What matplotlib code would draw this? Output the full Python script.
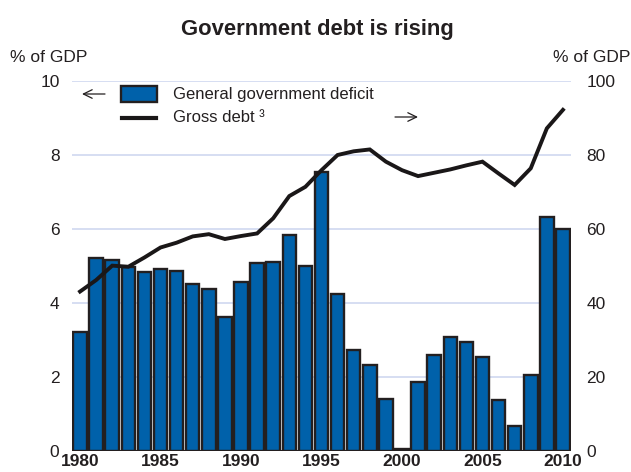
import matplotlib
matplotlib.use("Agg")
import matplotlib.pyplot as plt
from matplotlib.patches import Rectangle, FancyArrowPatch
from matplotlib.lines import Line2D

plt.rcParams['font.family'] = ['Liberation Sans', 'DejaVu Sans']

years = list(range(1980, 2011))
deficit = [3.22, 5.22, 5.17, 4.96, 4.85, 4.93, 4.86, 4.51, 4.38, 3.63,
           4.57, 5.07, 5.11, 5.84, 5.00, 7.53, 4.24, 2.73, 2.32, 1.41,
           0.05, 1.86, 2.59, 3.08, 2.95, 2.54, 1.37, 0.67, 2.05, 6.33, 5.99]
gross_debt = [43.1, 46.2, 50.1, 49.8, 52.3, 55.0, 56.3, 58.0, 58.6, 57.3,
              58.1, 58.8, 62.9, 68.9, 71.4, 75.9, 80.0, 81.0, 81.5, 78.2,
              75.9, 74.3, 75.2, 76.1, 77.2, 78.2, 75.0, 71.9, 76.4, 87.2, 92.2]
left_ticks = [0, 2, 4, 6, 8, 10]
right_ticks = [0, 20, 40, 60, 80, 100]
x_ticks = [1980, 1985, 1990, 1995, 2000, 2005, 2010]

bar_color = '#0061aa'
edge_color = '#231f20'
grid_color = '#ccd4ef'
text_color = '#231f20'

fig = plt.figure(figsize=(6.31, 4.72), dpi=100)
ax = fig.add_axes([72/631, 21/472, 499/631, 370/472])
ax2 = ax.twinx()

for t in left_ticks[1:]:
    ax.axhline(t, color=grid_color, lw=1.1, zorder=0)

ax.bar(years, deficit, width=0.84, color=bar_color, edgecolor=edge_color,
       linewidth=1.7, zorder=2)
ax.axhline(0, color=edge_color, lw=2.2, zorder=3)

ax2.plot(years, gross_debt, color='#1a1718', lw=2.8, zorder=4,
         solid_joinstyle='miter')

ax.set_xlim(1979.5, 2010.5)
ax.set_ylim(0, 10)
ax2.set_ylim(0, 100)

for a in (ax, ax2):
    for s in a.spines.values():
        s.set_visible(False)
    a.tick_params(length=0)

ax.set_yticks(left_ticks)
ax.set_yticklabels([str(v) for v in left_ticks], fontsize=12.5, color=text_color)
ax.tick_params(axis='y', pad=9)
ax2.set_yticks(right_ticks)
ax2.set_yticklabels([str(v) for v in right_ticks], fontsize=12.5, color=text_color)
ax2.tick_params(axis='y', pad=11)
ax.set_xticks(x_ticks)
ax.set_xticklabels([str(v) for v in x_ticks], fontsize=12.5, fontweight='bold',
                   color=text_color)
ax.tick_params(axis='x', pad=2)

fig.text(317/631, 1 - 30/472, 'Government debt is rising', ha='center',
         va='center', fontsize=15.8, fontweight='bold', color=text_color)
fig.text(10/631, 1 - 57/472, '% of GDP', ha='left', va='center', fontsize=12.5,
         color=text_color)
fig.text(630/631, 1 - 57/472, '% of GDP', ha='right', va='center', fontsize=12.5,
         color=text_color)

# legend
def fx(px):
    return px / 631
def fy(py):
    return 1 - py / 472

fig.patches.append(Rectangle((fx(121), fy(102)), 36/631, 16/472,
                             transform=fig.transFigure, facecolor=bar_color,
                             edgecolor=edge_color, linewidth=1.7))
fig.lines.append(Line2D([fx(122), fx(156)], [fy(118), fy(118)],
                        transform=fig.transFigure, color='#1a1718', lw=3.0))
fig.text(fx(173), fy(95), 'General government deficit', ha='left', va='center',
         fontsize=12, color=text_color)
fig.text(fx(173), fy(117), 'Gross debt ³', ha='left', va='center',
         fontsize=12, color=text_color)

arrow_style = '->,head_length=0.45,head_width=0.22'
fig.patches.append(FancyArrowPatch((fx(105), fy(94)), (fx(82), fy(94)),
                                   transform=fig.transFigure,
                                   arrowstyle=arrow_style, mutation_scale=14,
                                   lw=0.9, color=text_color,
                                   shrinkA=0, shrinkB=0))
fig.patches.append(FancyArrowPatch((fx(395), fy(117)), (fx(418), fy(117)),
                                   transform=fig.transFigure,
                                   arrowstyle=arrow_style, mutation_scale=14,
                                   lw=0.9, color=text_color,
                                   shrinkA=0, shrinkB=0))

fig.savefig('out.png', dpi=100)
